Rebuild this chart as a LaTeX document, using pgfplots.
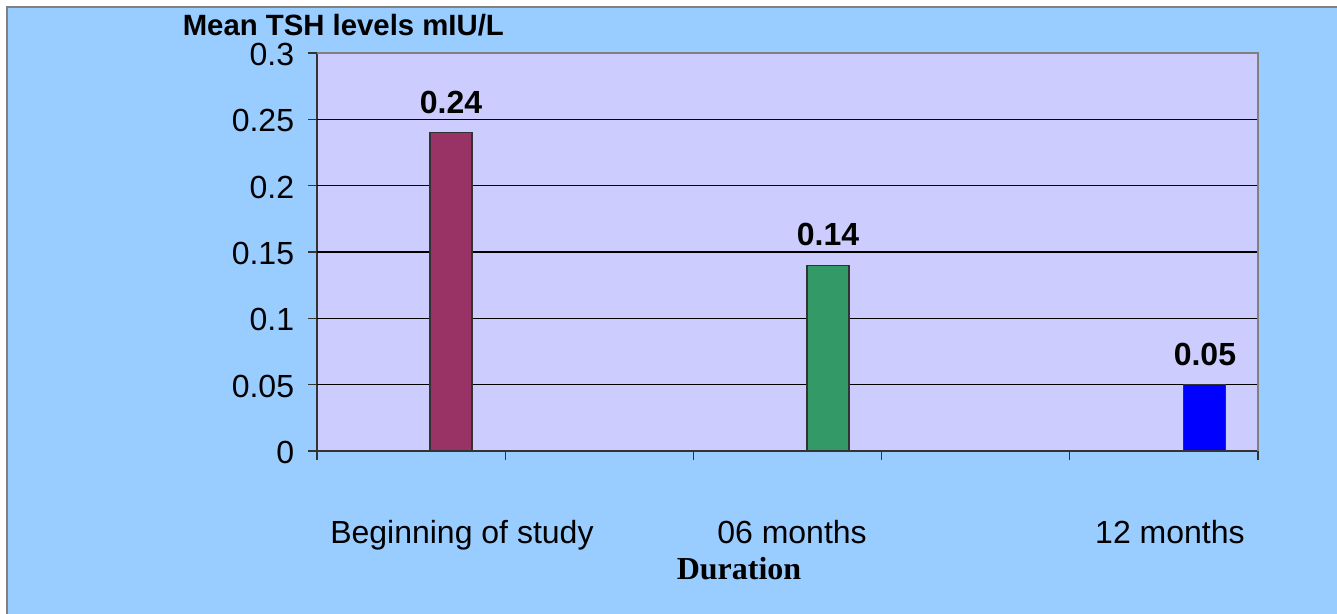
\documentclass[border=0pt]{standalone}
\usepackage{pgfplots}
\pgfplotsset{compat=1.18}
\usepackage{fontspec}
\setmainfont{Liberation Sans}
\newfontfamily\seriffont{Liberation Serif}
\definecolor{outerbg}{HTML}{99CCFF}
\definecolor{plotbg}{HTML}{CCCCFF}
\definecolor{plum}{HTML}{993366}
\definecolor{seagreen}{HTML}{339966}
\definecolor{pureblue}{HTML}{0000FF}
\begin{document}
\begin{tikzpicture}
\useasboundingbox (0,0) rectangle (501.375pt,-229.875pt);
\fill[white] (0,0) rectangle (501.375pt,-229.875pt);
\filldraw[fill=outerbg, draw=gray, line width=0.6pt] (2.625pt,-2.625pt) rectangle (505pt,-235pt);
\begin{axis}[
  at={(118.875pt,-169.125pt)}, anchor=south west,
  scale only axis, width=352.875pt, height=149.25pt,
  xmin=0, xmax=5, ymin=0, ymax=0.3,
  axis x line*=bottom, axis y line*=left,
  axis line style={draw=black!80, line width=0.4pt},
  axis background/.style={fill=plotbg},
  tick align=outside, major tick length=3.4pt,
  tick style={draw=black!80, line width=0.4pt},
  xtick={0,1,2,3,4,5}, xticklabels={},
  ytick={0,0.05,0.1,0.15,0.2,0.25,0.3},
  yticklabels={0,0.05,0.1,0.15,0.2,0.25,0.3},
  yticklabel style={font=\fontsize{12}{14}\selectfont, inner sep=0pt, xshift=-5pt, yshift=-0.6pt},
  extra y ticks={0.05,0.1,0.15,0.2,0.25},
  extra y tick labels={},
  extra y tick style={grid=major, major tick length=0pt, major grid style={draw=black, line width=0.4pt}},
  extra x ticks={0.770,2.524,4.532},
  extra x tick labels={Beginning of study,06 months,12 months},
  extra x tick style={major tick length=0pt, tick label style={anchor=base, inner sep=0pt, yshift=-34.5pt, font=\fontsize{12}{14}\selectfont}},
  xlabel={\seriffont\bfseries Duration},
  every axis x label/.style={at={(axis description cs:0.4485,0)}, anchor=base, yshift=-48pt, font=\fontsize{12}{14}\selectfont},
  ylabel={\bfseries Mean TSH levels mIU/L},
  every axis y label/.style={at={(axis description cs:0.028,1)}, anchor=base, yshift=6.4pt, font=\fontsize{11}{13}\selectfont},
  ybar, bar width=15.75pt,
  nodes near coords, point meta=explicit symbolic,
  nodes near coords style={font=\bfseries\fontsize{12}{14}\selectfont, anchor=south, inner sep=0pt, yshift=7pt, text=black},
  clip=false,
]
\addplot[bar shift=0pt, fill=plum, draw=black!80, line width=0.4pt] coordinates {(0.712,0.24) [0.24]};
\addplot[bar shift=0pt, fill=seagreen, draw=black!80, line width=0.4pt] coordinates {(2.715,0.14) [0.14]};
\addplot[bar shift=0pt, fill=pureblue, draw=black!80, line width=0.4pt] coordinates {(4.718,0.05) [0.05]};
\draw[gray, line width=0.4pt] (rel axis cs:0,1) -- (rel axis cs:1,1) -- (rel axis cs:1,0);
\end{axis}
\end{tikzpicture}
\end{document}
